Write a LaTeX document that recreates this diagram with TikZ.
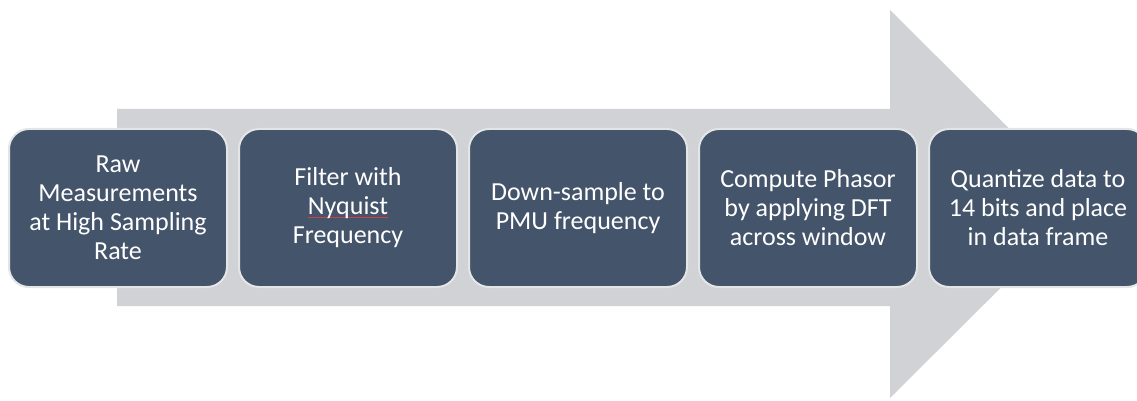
\documentclass[tikz,border=0pt]{standalone}
\usepackage{fontspec}
\setmainfont{Carlito}
\definecolor{boxfill}{HTML}{44546A}
\definecolor{boxline}{HTML}{E4E5E7}
\definecolor{arrowgray}{HTML}{D0D2D6}
\definecolor{squigred}{HTML}{D04040}
\newcommand{\squig}[1]{{\setbox0\hbox{#1}\rlap{\textcolor{squigred}{\raisebox{-3.5pt}{\rule{\wd0}{1.2pt}}}}\box0}}
\tikzset{
  stepbox/.style={draw=boxline, line width=2pt, fill=boxfill, rounded corners=20pt,
    minimum width=218pt, minimum height=158pt, text=white, align=center,
    font=\fontsize{26pt}{29pt}\selectfont, inner sep=0pt}
}
\begin{document}
\begin{tikzpicture}[x=1pt,y=-1pt]
\useasboundingbox (0,0) rectangle (1137,401);
\clip (0,0) rectangle (1137,401);
\fill[arrowgray] (117,109) -- (890,109) -- (890,10) -- (1085,204) -- (890,398) -- (890,306) -- (117,306) -- cycle;
\node[stepbox] (s1) at (118,208) {Raw\\Measurements\\at High Sampling\\Rate};
\node[stepbox] (s2) at (348,208) {Filter with\\\squig{Nyquist}\\Frequency};
\node[stepbox] (s3) at (578,208) {Down-sample to\\PMU frequency};
\node[stepbox] (s4) at (808,208) {Compute Phasor\\by applying DFT\\across window};
\node[stepbox] (s5) at (1038,208) {Quantize data to\\14 bits and place\\in data frame};
\end{tikzpicture}
\end{document}
